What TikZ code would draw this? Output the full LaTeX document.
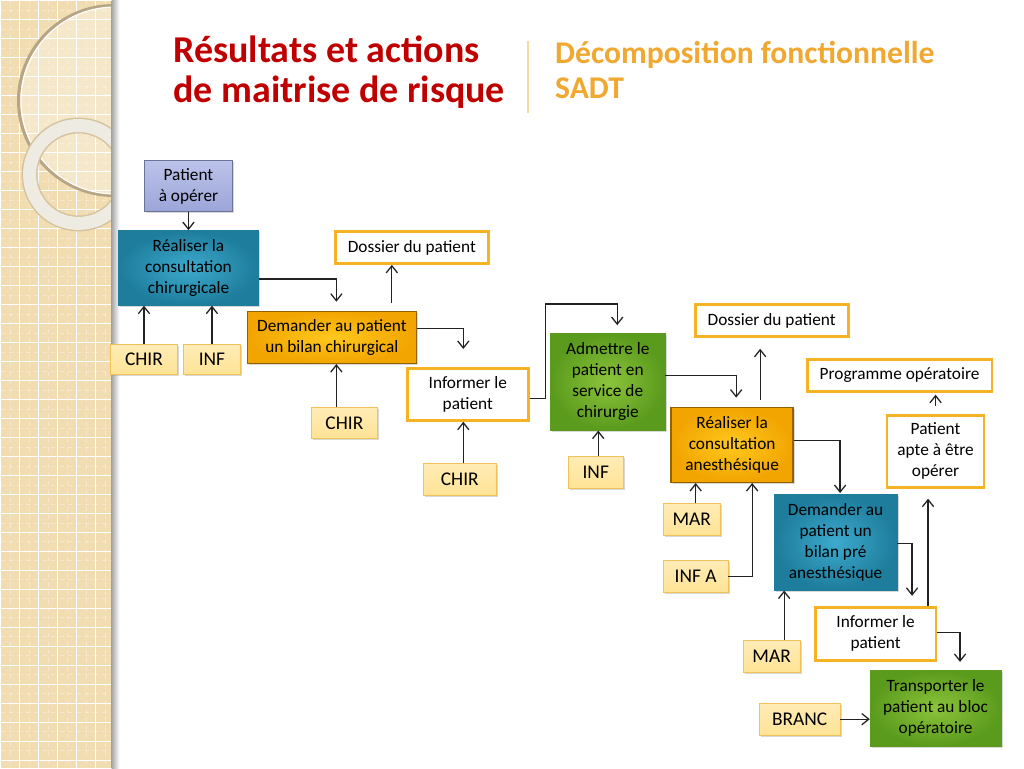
\documentclass[tikz,border=0pt]{standalone}
\usepackage{fontspec}
\setmainfont{Carlito}
\usetikzlibrary{arrows.meta,shadows}

\newlength\px
\setlength\px{0.025cm}

\definecolor{stripbeige}{HTML}{F2DDB2}
\definecolor{titlered}{HTML}{C00000}
\definecolor{sadtorange}{HTML}{F0A830}
\definecolor{boxorange}{HTML}{F5B324}
\definecolor{tealdark}{HTML}{1E7C9C}
\definecolor{teallight}{HTML}{3DAACD}
\definecolor{greendark}{HTML}{5A9A1C}
\definecolor{greenlight}{HTML}{8CC43C}
\definecolor{ambdark}{HTML}{F2A400}
\definecolor{amblight}{HTML}{FFC81E}
\definecolor{lavdark}{HTML}{9CA5D8}
\definecolor{lavlight}{HTML}{BCC3EA}
\definecolor{resfill}{HTML}{FFE396}
\definecolor{resline}{HTML}{EFC35A}
\definecolor{linkgray}{HTML}{222222}

\tikzset{
  sz/.style 2 args={minimum width=#1\px, minimum height=#2\px},
  base/.style={align=center, inner sep=2pt, font=\fontsize{12.3}{15}\selectfont},
  shade box/.style={base, drop shadow={shadow xshift=2\px, shadow yshift=-2\px, opacity=0.3}},
  teal/.style={shade box, inner color=teallight, outer color=tealdark, draw=tealdark},
  green/.style={shade box, inner color=greenlight, outer color=greendark, draw=greendark},
  amber/.style={shade box, inner color=amblight, outer color=ambdark, draw=ambdark!60!black, line width=1pt},
  lav/.style={shade box, top color=lavlight, bottom color=lavdark, draw=lavdark!70!black},
  resource/.style={shade box, top color=resfill!70!white, bottom color=resfill, draw=resline,
    font=\fontsize{13.8}{15}\selectfont},
  output/.style={base, fill=white, draw=boxorange, line width=2pt},
  link/.style={draw=linkgray, line width=0.9pt, -{Straight Barb[length=5pt,width=8pt]}},
}

\begin{document}
\begin{tikzpicture}[x=0.025cm, y=-0.025cm]
  % page and left strip
  \fill[white] (0,0) rectangle (1024,768);
  \fill[stripbeige] (0,0) rectangle (111,768);
  \foreach \g in {9.5,28.5,...,768} {
    \draw[white, opacity=0.35, dashed, line width=0.4pt] (0,\g) -- (111,\g);
  }
  \foreach \g in {9.5,28.5,...,111} {
    \draw[white, opacity=0.35, dashed, line width=0.4pt] (\g,0) -- (\g,768);
  }
  \foreach \g in {0,19,...,768} {
    \draw[white, line width=0.8pt] (0,\g) -- (111,\g);
  }
  \foreach \g in {19,38,...,111} {
    \draw[white, line width=0.8pt] (\g,0) -- (\g,768);
  }
  \begin{scope}
    \clip (0,0) rectangle (111,768);
    \fill[white, opacity=0.3] (113,100) circle (95);
    \draw[black!25!stripbeige, line width=2.2pt] (113,100) circle (95);
    \draw[white, line width=0.8pt] (114,100) circle (93.5);
    \draw[black!12!stripbeige, line width=16\px] (78,174) circle (49);
    \draw[black!4, opacity=0.8, line width=13\px] (78,174) circle (49);
  \end{scope}
  \shade[left color=black!35, right color=white] (111,0) rectangle (119,768);

  % titles
  \node[anchor=base west, align=left, text=titlered, font=\bfseries\fontsize{27}{28.5}\selectfont]
    (title) at (168,102) {Résultats et actions\\de maitrise de risque};
  \draw[sadtorange!45, line width=1.2pt] (528,40) -- (528,112);
  \node[anchor=base west, align=left, text=sadtorange, font=\bfseries\fontsize{22.5}{25}\selectfont]
    (subtitle) at (550,98) {Décomposition fonctionnelle\\SADT};

  % activities and data
  \node[lav, sz={88}{51}] (pat) at (188,185.5) {Patient\\à opérer};
  \node[teal, sz={140}{75}] (rchir) at (188,267.5) {Réaliser la\\consultation\\chirurgicale};
  \node[output, sz={153}{32}] (dos1) at (411.5,247) {Dossier du patient};
  \node[resource, sz={67}{30}] (chir1) at (143.5,359) {CHIR};
  \node[resource, sz={57}{30}] (inf1) at (211.5,359) {INF};
  \node[amber, sz={169}{52}] (dchir) at (331.5,337) {Demander au patient\\un bilan chirurgical};
  \node[resource, sz={66}{31}] (chir2) at (344,422.5) {CHIR};
  \node[output, sz={121}{52}] (info1) at (467.5,394) {Informer le\\patient};
  \node[resource, sz={73}{32}] (chir3) at (459.5,479) {CHIR};
  \node[green, sz={115}{97}] (adm) at (607.5,381.5) {Admettre le\\patient en\\service de\\chirurgie};
  \node[resource, sz={55}{32}] (inf2) at (595.5,472) {INF};
  \node[output, sz={153}{32}] (dos2) at (771.5,320) {Dossier du patient};
  \node[output, sz={185}{32}] (prog) at (899.5,375) {Programme opératoire};
  \node[amber, sz={122}{75}] (ranes) at (732,444.5) {Réaliser la\\consultation\\anesthésique};
  \node[output, sz={97}{72}] (apte) at (935.5,451) {Patient\\apte à être\\opérer};
  \node[resource, sz={57}{32}] (mar1) at (691.5,519) {MAR};
  \node[resource, sz={65}{32}] (infa) at (695.5,576) {INF A};
  \node[teal, sz={123}{96}] (dpre) at (835.5,542) {Demander au\\patient un\\bilan pré\\anesthésique};
  \node[output, sz={121}{53}] (info2) at (875.5,633.5) {Informer le\\patient};
  \node[resource, sz={57}{32}] (mar2) at (771.5,656) {MAR};
  \node[green, sz={131}{76}] (trans) at (935.5,708) {Transporter le\\patient au bloc\\opératoire};
  \node[resource, sz={81}{32}] (branc) at (799.5,719) {BRANC};

  % links
  \draw[link] (pat) -- (rchir);
  \draw[link] ([yshift=-11\px]rchir.east) -| ([xshift=4.5\px,yshift=9\px]dchir.north);
  \draw[link] (chir1.north) -- (chir1.north |- rchir.south);
  \draw[link] (inf1.north) -- (inf1.north |- rchir.south);
  \draw[link] ([xshift=60\px,yshift=8\px]dchir.north) coordinate (d1) -- (d1 |- dos1.south);
  \draw[link] ([xshift=-8\px]chir2.north) coordinate (c2) -- (c2 |- dchir.south);
  \draw[link] ([yshift=9\px]dchir.east) -| ([xshift=-4.5\px,yshift=18\px]info1.north);
  \draw[link] ([xshift=3.5\px]chir3.north) coordinate (c3) -- (c3 |- info1.south);
  \draw[link] ([yshift=-4\px]info1.east) -- ++(16,0) |- ([xshift=9.5\px,yshift=29\px]adm.north)
    -- ([xshift=9.5\px,yshift=8\px]adm.north);
  \draw[link] ([xshift=2.5\px]inf2.north) coordinate (i2) -- (i2 |- adm.south);
  \draw[link] ([yshift=6.5\px]adm.east) -| ([xshift=4\px,yshift=9\px]ranes.north);
  \draw[link, shorten >=11\px] ([xshift=28\px,yshift=7\px]ranes.north) coordinate (r1) -- (r1 |- dos2.south);
  \draw[link] ([yshift=4.5\px]ranes.east) -| ([xshift=4.5\px,yshift=1\px]dpre.north);
  \draw[link] ([xshift=4\px]mar1.north) coordinate (m1) -- (m1 |- ranes.south);
  \draw[link] (infa.east) -| ([xshift=20\px]ranes.south);
  \draw[link] ([yshift=-1\px]dpre.east) -| ([xshift=36.5\px,yshift=10\px]info2.north);
  \draw[link] ([xshift=12.5\px]mar2.north) coordinate (m2) -- (m2 |- dpre.south);
  \draw[link, shorten >=10\px] ([xshift=52.5\px]info2.north) coordinate (i3) -- (i3 |- apte.south);
  \draw[link, shorten >=2\px] ([yshift=8\px]apte.north) -- (prog.south -| apte.north);
  \draw[link] ([yshift=1.5\px]info2.east) -| ([xshift=24.5\px,yshift=8\px]trans.north);
  \draw[link] (branc.east) -- (branc.east -| trans.west);
\end{tikzpicture}
\end{document}
